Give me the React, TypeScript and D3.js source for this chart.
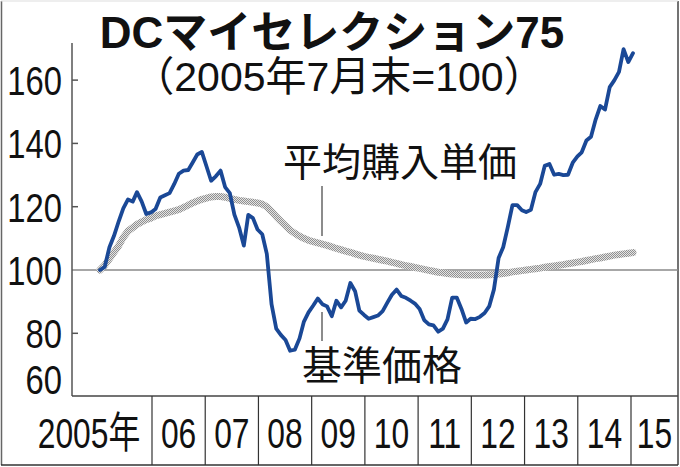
import React from "react";
import * as d3 from "d3";

const W = 680;
const H = 467;

const titleText = "DCマイセレクション75";
const subtitleText = "（2005年7月末=100）";
const avgLabel = "平均購入単価";
const navLabel = "基準価格";

const yTicks = [160, 140, 120, 100, 80, 60];
const yearLabels = ["2005年", "06", "07", "08", "09", "10", "11", "12", "13", "14", "15"];
const yearStarts = [2006, 2007, 2008, 2009, 2010, 2011, 2012, 2013, 2014, 2015];

// monthly, Jul 2005 .. Feb 2015
const navValues = [
  100, 101, 107.2, 110.8, 115.4, 119.5, 122.3, 121.6, 124.6, 121.6,
  117.7, 118.2, 119.3, 122.9, 123.6, 124.3, 127.2, 130.4, 131.4, 131.6,
  133.9, 136.5, 137.3, 132.7, 128.2, 129.6, 131.4, 126.2, 124.3, 117.5,
  113.4, 107.7, 117.4, 116.4, 112.8, 111.3, 105.1, 89.2, 81.5, 79.5,
  77.9, 74.5, 74.8, 78.4, 83.6, 86.6, 88.7, 91, 89.2, 88.5,
  85.4, 90.3, 88.2, 90.3, 95.9, 93.3, 87.2, 85.8, 84.6, 85.1,
  85.6, 87, 89.7, 92.2, 93.8, 91.8, 91.2, 90.3, 89.4, 87.7,
  84.2, 82.8, 82.5, 80.5, 81.5, 84.4, 91.3, 91.3, 87.7, 83.4,
  84.6, 84.5, 85.2, 86.4, 88.5, 93.8, 103.8, 107.2, 113.7, 120.5,
  120.5, 118.9, 118.3, 119, 124.6, 127.2, 132.9, 133.5, 130.1, 130.4,
  130, 130.1, 133.9, 135.9, 137.2, 140.9, 142.1, 147.6, 151.8, 150.7,
  157.8, 159.9, 162.6, 169.8, 165.7, 168.5,
];

const avgValues = [
  100, 101.5, 103.6, 105.6, 107.7, 110.3, 112.3, 113.4, 114.4, 115.2,
  115.9, 116.4, 117.1, 117.5, 117.9, 118.3, 118.7, 119.1, 119.8, 120.5,
  121.2, 121.8, 122.3, 122.7, 123.1, 123.2, 123.2, 123, 122.6, 122.3,
  122, 121.8, 121.6, 121.4, 121.2, 120.8, 120, 118.5, 116.9, 115.4,
  114, 112.6, 111.6, 110.7, 110, 109.4, 109, 108.6, 108.2, 107.8,
  107.3, 106.8, 106.4, 106, 105.6, 105.1, 104.7, 104.3, 104, 103.7,
  103.4, 103.1, 102.8, 102.4, 102.1, 101.7, 101.4, 101.1, 100.8, 100.5,
  100.2, 99.9, 99.6, 99.3, 99.1, 98.9, 98.7, 98.6, 98.5, 98.4,
  98.4, 98.4, 98.4, 98.4, 98.5, 98.6, 98.7, 98.9, 99.1, 99.4,
  99.6, 99.8, 100, 100.2, 100.4, 100.6, 100.9, 101.1, 101.3, 101.5,
  101.7, 102, 102.2, 102.5, 102.7, 103, 103.3, 103.6, 103.8, 104.1,
  104.4, 104.7, 104.9, 105.1, 105.3, 105.5,
];

const months = d3.timeMonth.range(new Date(2005, 6, 1), new Date(2015, 2, 1));

const PL = 72;
const PR = 678;
const PT = 43;
const PB = 396;
const AXIS_BOTTOM = 465;

const x = d3.scaleTime().domain([months[0], months[months.length - 1]]).range([100, 633]);
const y = d3.scaleLinear().domain([60, 171]).range([396.6, 45.3]);
const yearX = d3.scaleLinear().domain([2006, 2015]).range([152, 631]);

const LATIN = "'Liberation Sans', Arial, 'Noto Sans CJK JP', sans-serif";

export default function App() {
  const line = d3
    .line<number>()
    .x((_, i) => x(months[i]))
    .y((d) => y(d))
    .curve(d3.curveLinear);

  const navPath = line(navValues.slice(0, months.length)) || "";
  const avgPath = line(avgValues.slice(0, months.length)) || "";

  const bounds = [1, ...yearStarts.map((yr) => yearX(yr)), PR];

  return (
    <svg width={W} height={H} style={{ display: "block", position: "absolute", left: 0, top: 0, background: "#fff" }}>
      <defs>
        <pattern id="dots" width="2" height="2" patternUnits="userSpaceOnUse">
          <rect x="0" y="0" width="2" height="2" fill="#e4e4e4" />
          <rect x="0" y="0" width="1" height="1" fill="#909090" />
          <rect x="1" y="1" width="1" height="1" fill="#909090" />
        </pattern>
      </defs>
      <rect x={0} y={0} width={W} height={H} fill="#fff" />
      {/* outer frame */}
      <line x1={1.5} y1={1} x2={1.5} y2={AXIS_BOTTOM} stroke="#666" strokeWidth={1.5} />
      <line x1={PR} y1={1} x2={PR} y2={AXIS_BOTTOM} stroke="#444" strokeWidth={1.5} />
      <line x1={1} y1={AXIS_BOTTOM} x2={PR} y2={AXIS_BOTTOM} stroke="#333" strokeWidth={1.5} />
      <line x1={1} y1={1} x2={PR} y2={1} stroke="#ddd" strokeWidth={1} />

      {/* title */}
      <text x={332} y={48} textAnchor="middle" fontFamily={LATIN} fontWeight="bold" fontSize={44} fill="#111">
        {titleText}
      </text>
      <text x={339} y={91} textAnchor="middle" fontFamily={LATIN} fontSize={41} fill="#111">
        {subtitleText}
      </text>

      {/* 100 line */}
      <line x1={PL} x2={PR} y1={y(100)} y2={y(100)} stroke="#8a8a8a" strokeWidth={1.5} />

      {/* y axis */}
      <line x1={PL} x2={PL} y1={PT} y2={PB} stroke="#555" strokeWidth={1.5} />
      {yTicks.map((t) => (
        <g key={t}>
          {t !== 100 && t !== 60 && (
            <line x1={PL} x2={PL + 6} y1={y(t)} y2={y(t)} stroke="#555" strokeWidth={1.5} />
          )}
          <g transform={`translate(62,${t === 60 ? 394 : y(t) + 15}) scale(0.8,1)`}>
            <text x={0} y={0} textAnchor="end" fontFamily={LATIN} fontSize={41} fill="#111">
              {t}
            </text>
          </g>
        </g>
      ))}

      {/* bottom line */}
      <line x1={PL} x2={PR} y1={PB} y2={PB} stroke="#444" strokeWidth={1.5} />

      {/* x axis cells */}
      {yearStarts.map((yr) => (
        <line key={yr} x1={yearX(yr)} x2={yearX(yr)} y1={PB} y2={AXIS_BOTTOM} stroke="#333" strokeWidth={1.2} />
      ))}
      {yearLabels.map((lab, i) => {
        const cx = i === 0 ? 89 : (bounds[i] + bounds[i + 1]) / 2;
        return (
          <g key={lab} transform={`translate(${cx},448) scale(0.74,1)`}>
            <text x={0} y={0} textAnchor="middle" fontFamily={LATIN} fontSize={43} fill="#111">
              {lab}
            </text>
          </g>
        );
      })}

      {/* series */}
      <path d={avgPath} fill="none" stroke="url(#dots)" strokeWidth={7} strokeLinejoin="round" strokeLinecap="round" />
      <path d={navPath} fill="none" stroke="#1a4896" strokeWidth={3.8} strokeLinejoin="round" strokeLinecap="round" />

      {/* annotations */}
      <line x1={322} x2={322} y1={186} y2={236} stroke="#666" strokeWidth={1.5} />
      <text x={400} y={176} textAnchor="middle" fontFamily="'Noto Sans CJK JP', sans-serif" fontSize={39} fill="#111">
        {avgLabel}
      </text>
      <line x1={322} x2={322} y1={312} y2={341} stroke="#666" strokeWidth={1.5} />
      <text x={382} y={380} textAnchor="middle" fontFamily="'Noto Sans CJK JP', sans-serif" fontSize={40} fill="#111">
        {navLabel}
      </text>
    </svg>
  );
}
